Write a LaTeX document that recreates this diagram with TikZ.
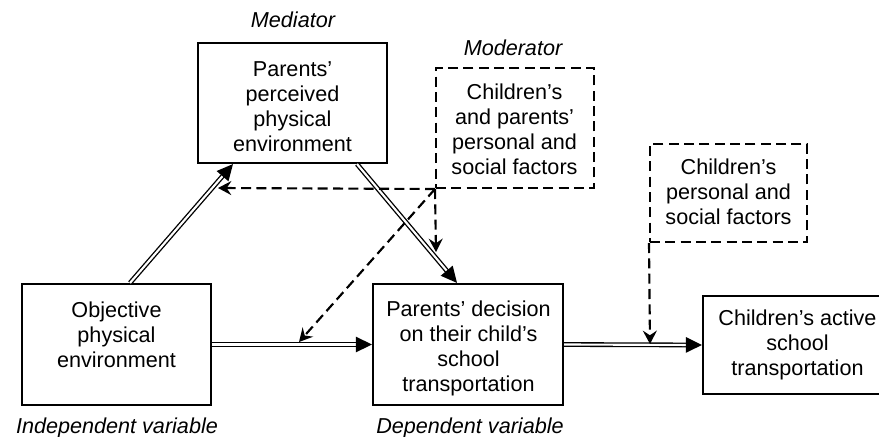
\documentclass[tikz,border=0pt]{standalone}
\usepackage{fontspec}
\setmainfont{Liberation Sans}
\usetikzlibrary{arrows.meta,calc}
\newcommand\dblarrow[2]{%
  \draw[dbl] (#1) -- (#2);
  \draw[tipS] ($(#2)!11.5pt!(#1)$) -- (#2);}
\begin{document}
\begin{tikzpicture}[x=0.75pt,y=-0.75pt,
  box/.style={draw,line width=1.6pt,inner sep=0pt},
  dbox/.style={draw,line width=1.5pt,dash pattern=on 7.5pt off 4pt,inner sep=0pt},
  txt/.style={align=center,inner sep=0pt,anchor=north,font=\fontsize{16.2}{18.75}\selectfont},
  lab/.style={inner sep=0pt,anchor=base,font=\fontsize{16.2}{18.75}\selectfont\itshape},
  dbl/.style={double,line width=1pt,double distance=1.6pt,shorten >=11pt},
  tipS/.style={line width=1pt,-{Triangle[length=12pt,width=11.5pt]}},
  dasharr/.style={line width=1.6pt,dash pattern=on 7.5pt off 4pt,-{Stealth[length=10pt,width=10.5pt,inset=3.5pt]}}
]
\useasboundingbox (0,0) rectangle (879,436);

% boxes
\node[box,minimum width=141.75pt,minimum height=90pt] (med) at (292.5,103) {};
\node[txt] (medt) at (292.5,61) {Parents’\\perceived\\physical\\environment};
\node[box,minimum width=141.75pt,minimum height=90.75pt] (obj) at (116.5,344.5) {};
\node[txt] (objt) at (116.5,302) {Objective\\physical\\environment};
\node[box,minimum width=142.5pt,minimum height=90.75pt] (dec) at (468,344.5) {};
\node[txt] (dect) at (468.5,301) {Parents’ decision\\on their child’s\\school\\transportation};
\node[box,minimum width=141.75pt,minimum height=73.5pt,align=center,font=\fontsize{16.2}{18.75}\selectfont] (child) at (797.5,345) {Children’s active\\school\\transportation};
\node[dbox,minimum width=118.5pt,minimum height=90pt] (mod1) at (515,128) {};
\node[txt] (mod1t) at (514.5,84) {Children’s\\and parents’\\personal and\\social factors};
\node[dbox,minimum width=117.75pt,minimum height=73.5pt] (mod2) at (728.5,193) {};
\node[txt] (mod2t) at (728.5,159) {Children’s\\personal and\\social factors};

% labels
\node[lab] (lmed) at (293,27) {Mediator};
\node[lab] (lmod) at (513,55) {Moderator};
\node[lab] (lind) at (117,433) {Independent variable};
\node[lab] (ldep) at (470,433) {Dependent variable};

% double arrows
\coordinate (o1) at ($(obj.north)+(13.5,0)$);
\coordinate (m1) at ($(med.south)+(-59.5,0)$);
\coordinate (m2) at ($(med.south)+(64.5,0)$);
\coordinate (d1) at ($(dec.north)+(-11,0)$);
\dblarrow{o1}{m1}
\dblarrow{m2}{d1}
\dblarrow{obj.east}{dec.west}
\dblarrow{dec.east}{child.west}

% dashed moderating arrows
\coordinate (J) at (mod1.south west);
\coordinate (t1) at (218,188);
\coordinate (t2) at (436,252);
\coordinate (t3) at (299,342);
\coordinate (t4) at (650,344);
\draw[dasharr] (J) -- (t1);
\draw[dasharr] (J) -- (t2);
\draw[dasharr] (J) -- (t3);
\draw[dasharr] (mod2.south west) -- (t4);
\end{tikzpicture}
\end{document}
